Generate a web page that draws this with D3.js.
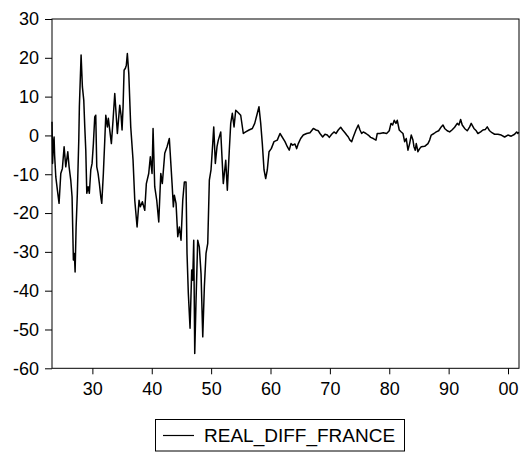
<!DOCTYPE html>
<html>
<head>
<meta charset="utf-8">
<script src="https://cdn.jsdelivr.net/npm/d3@7/dist/d3.min.js"></script>
<style>
body { margin: 0; background: #fff; }
text { font-family: Arial, "Liberation Sans", sans-serif; fill: #000; }
</style>
</head>
<body>
<script>
// series (year, value)
var dates = [
  1923.20, 1923.30, 1923.43, 1923.55, 1923.64, 1923.84, 1924.11, 1924.39, 1924.68, 1924.95,
  1925.24, 1925.52, 1925.86, 1926.08, 1926.36, 1926.58, 1926.80, 1926.97, 1927.09, 1927.26,
  1927.47, 1927.71, 1927.81, 1928.10, 1928.32, 1928.55, 1928.72, 1928.89, 1929.06, 1929.28,
  1929.49, 1929.73, 1929.95, 1930.17, 1930.40, 1930.57, 1930.74, 1930.96, 1931.18, 1931.41,
  1931.58, 1931.85, 1932.09, 1932.26, 1932.53, 1932.69, 1933.20, 1933.48, 1933.77, 1933.99,
  1934.21, 1934.61, 1934.83, 1935.00, 1935.17, 1935.34, 1935.56, 1935.72, 1935.89, 1936.13,
  1936.46, 1936.85, 1937.14, 1937.53, 1937.86, 1938.08, 1938.42, 1938.82, 1939.09, 1939.49,
  1939.76, 1940.05, 1940.22, 1940.50, 1940.84, 1941.18, 1941.52, 1941.78, 1942.19, 1942.58,
  1942.96, 1943.25, 1943.42, 1943.64, 1943.80, 1944.09, 1944.38, 1944.65, 1944.93, 1945.22,
  1945.49, 1945.77, 1945.94, 1946.16, 1946.45, 1946.73, 1946.90, 1947.07, 1947.24, 1947.46,
  1947.74, 1948.01, 1948.30, 1948.59, 1948.86, 1949.14, 1949.43, 1949.70, 1949.98, 1950.27,
  1950.44, 1950.71, 1950.99, 1951.21, 1951.62, 1952.05, 1952.46, 1952.73, 1953.06, 1953.30,
  1953.57, 1953.86, 1954.14, 1954.41, 1954.98, 1955.42, 1955.82, 1956.38, 1956.94, 1957.34,
  1957.78, 1958.06, 1958.35, 1958.62, 1958.91, 1959.19, 1959.46, 1959.75, 1960.13, 1960.59,
  1961.14, 1961.60, 1962.44, 1962.83, 1963.16, 1963.45, 1963.74, 1964.12, 1964.41, 1964.68,
  1965.08, 1965.52, 1966.09, 1966.65, 1967.21, 1967.66, 1968.05, 1968.33, 1968.79, 1969.17,
  1969.56, 1969.90, 1970.30, 1970.69, 1971.03, 1971.41, 1971.82, 1972.15, 1972.54, 1972.83,
  1973.10, 1973.38, 1973.67, 1973.94, 1974.39, 1974.78, 1975.07, 1975.35, 1975.62, 1976.08,
  1976.46, 1976.87, 1977.31, 1977.76, 1977.98, 1978.43, 1978.99, 1979.56, 1980.00, 1980.29,
  1980.57, 1980.84, 1981.13, 1981.35, 1981.68, 1982.02, 1982.31, 1982.59, 1982.86, 1983.15,
  1983.43, 1983.70, 1983.99, 1984.16, 1984.38, 1984.55, 1984.83, 1985.12, 1985.39, 1985.96,
  1986.52, 1986.80, 1987.07, 1987.53, 1987.91, 1988.32, 1988.75, 1989.04, 1989.33, 1989.76,
  1990.17, 1990.56, 1991.01, 1991.45, 1991.73, 1992.02, 1992.29, 1992.69, 1993.13, 1993.54,
  1993.80, 1994.26, 1994.65, 1994.93, 1995.39, 1995.77, 1996.16, 1996.50, 1996.90, 1997.29,
  1997.74, 1998.30, 1998.86, 1999.43, 1999.98, 2000.54, 2001.11, 2001.45, 2001.67, 2001.78
];
var realDiffFrance = [
   3.5,  -7.2,  -2.1,  -0.4,  -5.1, -10.7, -14.1, -17.5,  -9.8,  -8.5,
  -2.9,  -8.1,  -4.2,  -8.1, -11.5, -15.8, -32.1, -30.4, -35.2, -23.6,
 -14.9,  -1.2,   7.4,  20.7,  12.5,   9.1,   2.2,  -3.8, -14.9, -13.2,
 -14.9,  -8.9,  -7.2,  -2.1,   4.8,   5.2,  -8.1,  -9.8, -12.4, -15.8,
 -17.5,  -9.8,  -1.2,   5.2,   2.2,   4.4,  -2.1,   3.9,  10.8,   5.7,
   0.5,   7.8,   5.2,   1.4,   7.4,  16.8,  17.3,  18.1,  21.1,  16.0,
   2.2,  -6.4, -16.7, -23.6, -16.7, -18.4, -17.1, -19.3, -12.4,  -9.8,
  -5.5,  -9.8,   1.8, -13.2, -16.7, -22.3,  -9.8, -12.4,  -4.6,  -2.9,
  -0.8,  -8.1, -12.4, -18.4, -15.4, -17.5, -26.1, -23.6, -27.0, -16.7,
 -12.0, -12.0, -30.4, -40.7, -49.7, -34.7, -37.3, -27.0, -56.2, -42.4,
 -27.0, -28.7, -35.6, -51.9, -39.0, -30.4, -27.8, -11.5,  -8.9,  -2.1,
   2.2,  -7.2,  -2.9,  -1.2,   0.9, -12.4,  -6.4, -14.1,  -3.8,   3.1,
   5.7,   2.2,   6.5,   6.1,   5.2,   0.5,   0.9,   1.4,   1.8,   3.1,
   5.7,   7.4,   3.1,  -2.1,  -8.9, -11.1,  -8.9,  -4.2,  -3.4,  -1.6,
  -1.2,   0.5,  -1.6,  -2.9,  -3.8,  -2.1,  -2.5,  -2.2,  -3.4,  -2.1,
  -0.8,   0.1,   0.5,   0.7,   1.8,   1.4,   1.2,   0.5,  -0.4,   0.3,
   0.1,  -0.5,   0.3,   0.9,   0.5,   1.4,   2.1,   1.4,   0.7,   0.1,
  -0.4,  -1.2,  -1.6,  -0.4,   1.4,   2.7,   1.4,   0.5,   0.9,   0.5,
   0.1,  -0.5,  -0.8,  -1.2,   0.5,   0.5,   0.7,   0.5,   1.2,   3.1,
   2.7,   3.9,   3.1,   3.9,   1.4,   0.9,   0.5,  -1.6,  -0.8,  -3.8,
  -2.1,   0.1,  -1.2,  -2.9,  -3.8,  -2.1,  -4.2,  -3.4,  -2.9,  -2.8,
  -2.1,  -1.2,   0.1,   0.5,   0.9,   1.2,   2.2,   2.7,   1.8,   1.2,
   0.9,   1.4,   2.1,   3.1,   2.7,   4.1,   2.7,   1.8,   1.2,   2.2,
   3.1,   1.8,   1.2,   0.5,   0.9,   1.4,   1.5,   2.2,   1.2,   0.7,
   0.3,   0.3,   0.1,  -0.4,   0.1,  -0.2,   0.3,   0.9,   0.5,   0.9
];
var yTicks = [-60, -50, -40, -30, -20, -10, 0, 10, 20, 30];
var xTicks = [1930, 1940, 1950, 1960, 1970, 1980, 1990, 2000];
var seriesName = "REAL_DIFF_FRANCE";

var svgWidth = 532, svgHeight = 455;
var plotLeft = 52, plotRight = 519, plotTop = 19, plotBottom = 368.3;

var svg = d3.select("body").append("svg")
    .attr("width", svgWidth)
    .attr("height", svgHeight);

var x = d3.scaleLinear().domain([1923.2, 2001.85]).range([plotLeft, plotRight]);
var y = d3.scaleLinear().domain([-60, 30]).range([plotBottom, plotTop]);

// frame
svg.append("rect")
    .attr("x", plotLeft)
    .attr("y", plotTop)
    .attr("width", plotRight - plotLeft)
    .attr("height", plotBottom - plotTop)
    .attr("fill", "none")
    .attr("stroke", "#000")
    .attr("stroke-width", 1);

svg.append("g")
    .attr("transform", "translate(" + plotLeft + ",0)")
    .call(d3.axisLeft(y).tickValues(yTicks).tickSize(7).tickPadding(6)
        .tickFormat(function(d) { return String(d); }));

svg.append("g")
    .attr("transform", "translate(0," + plotBottom + ")")
    .call(d3.axisBottom(x).tickValues(xTicks).tickSize(6).tickPadding(8)
        .tickFormat(function(d) { return d3.format("02d")(d % 100); }));

svg.selectAll(".domain").remove();
svg.selectAll(".tick line").attr("stroke", "#000");
svg.selectAll(".tick text").style("font-size", "18px").attr("fill", "#000");

var points = dates.map(function(d, i) { return [d, realDiffFrance[i]]; });

var line = d3.line()
    .x(function(d) { return x(d[0]); })
    .y(function(d) { return y(d[1]); });

svg.append("path")
    .datum(points)
    .attr("d", line)
    .attr("fill", "none")
    .attr("stroke", "#000")
    .attr("stroke-width", 1.5)
    .attr("stroke-linejoin", "round");

// legend
var legend = svg.append("g");
legend.append("rect")
    .attr("x", 155.5)
    .attr("y", 419.5)
    .attr("width", 249)
    .attr("height", 31.5)
    .attr("fill", "#fff")
    .attr("stroke", "#000");
legend.append("line")
    .attr("x1", 163)
    .attr("x2", 194)
    .attr("y1", 435.5)
    .attr("y2", 435.5)
    .attr("stroke", "#000")
    .attr("stroke-width", 1.2);
legend.append("text")
    .attr("x", 204)
    .attr("y", 442)
    .style("font-size", "19px")
    .text(seriesName);
</script>
</body>
</html>
